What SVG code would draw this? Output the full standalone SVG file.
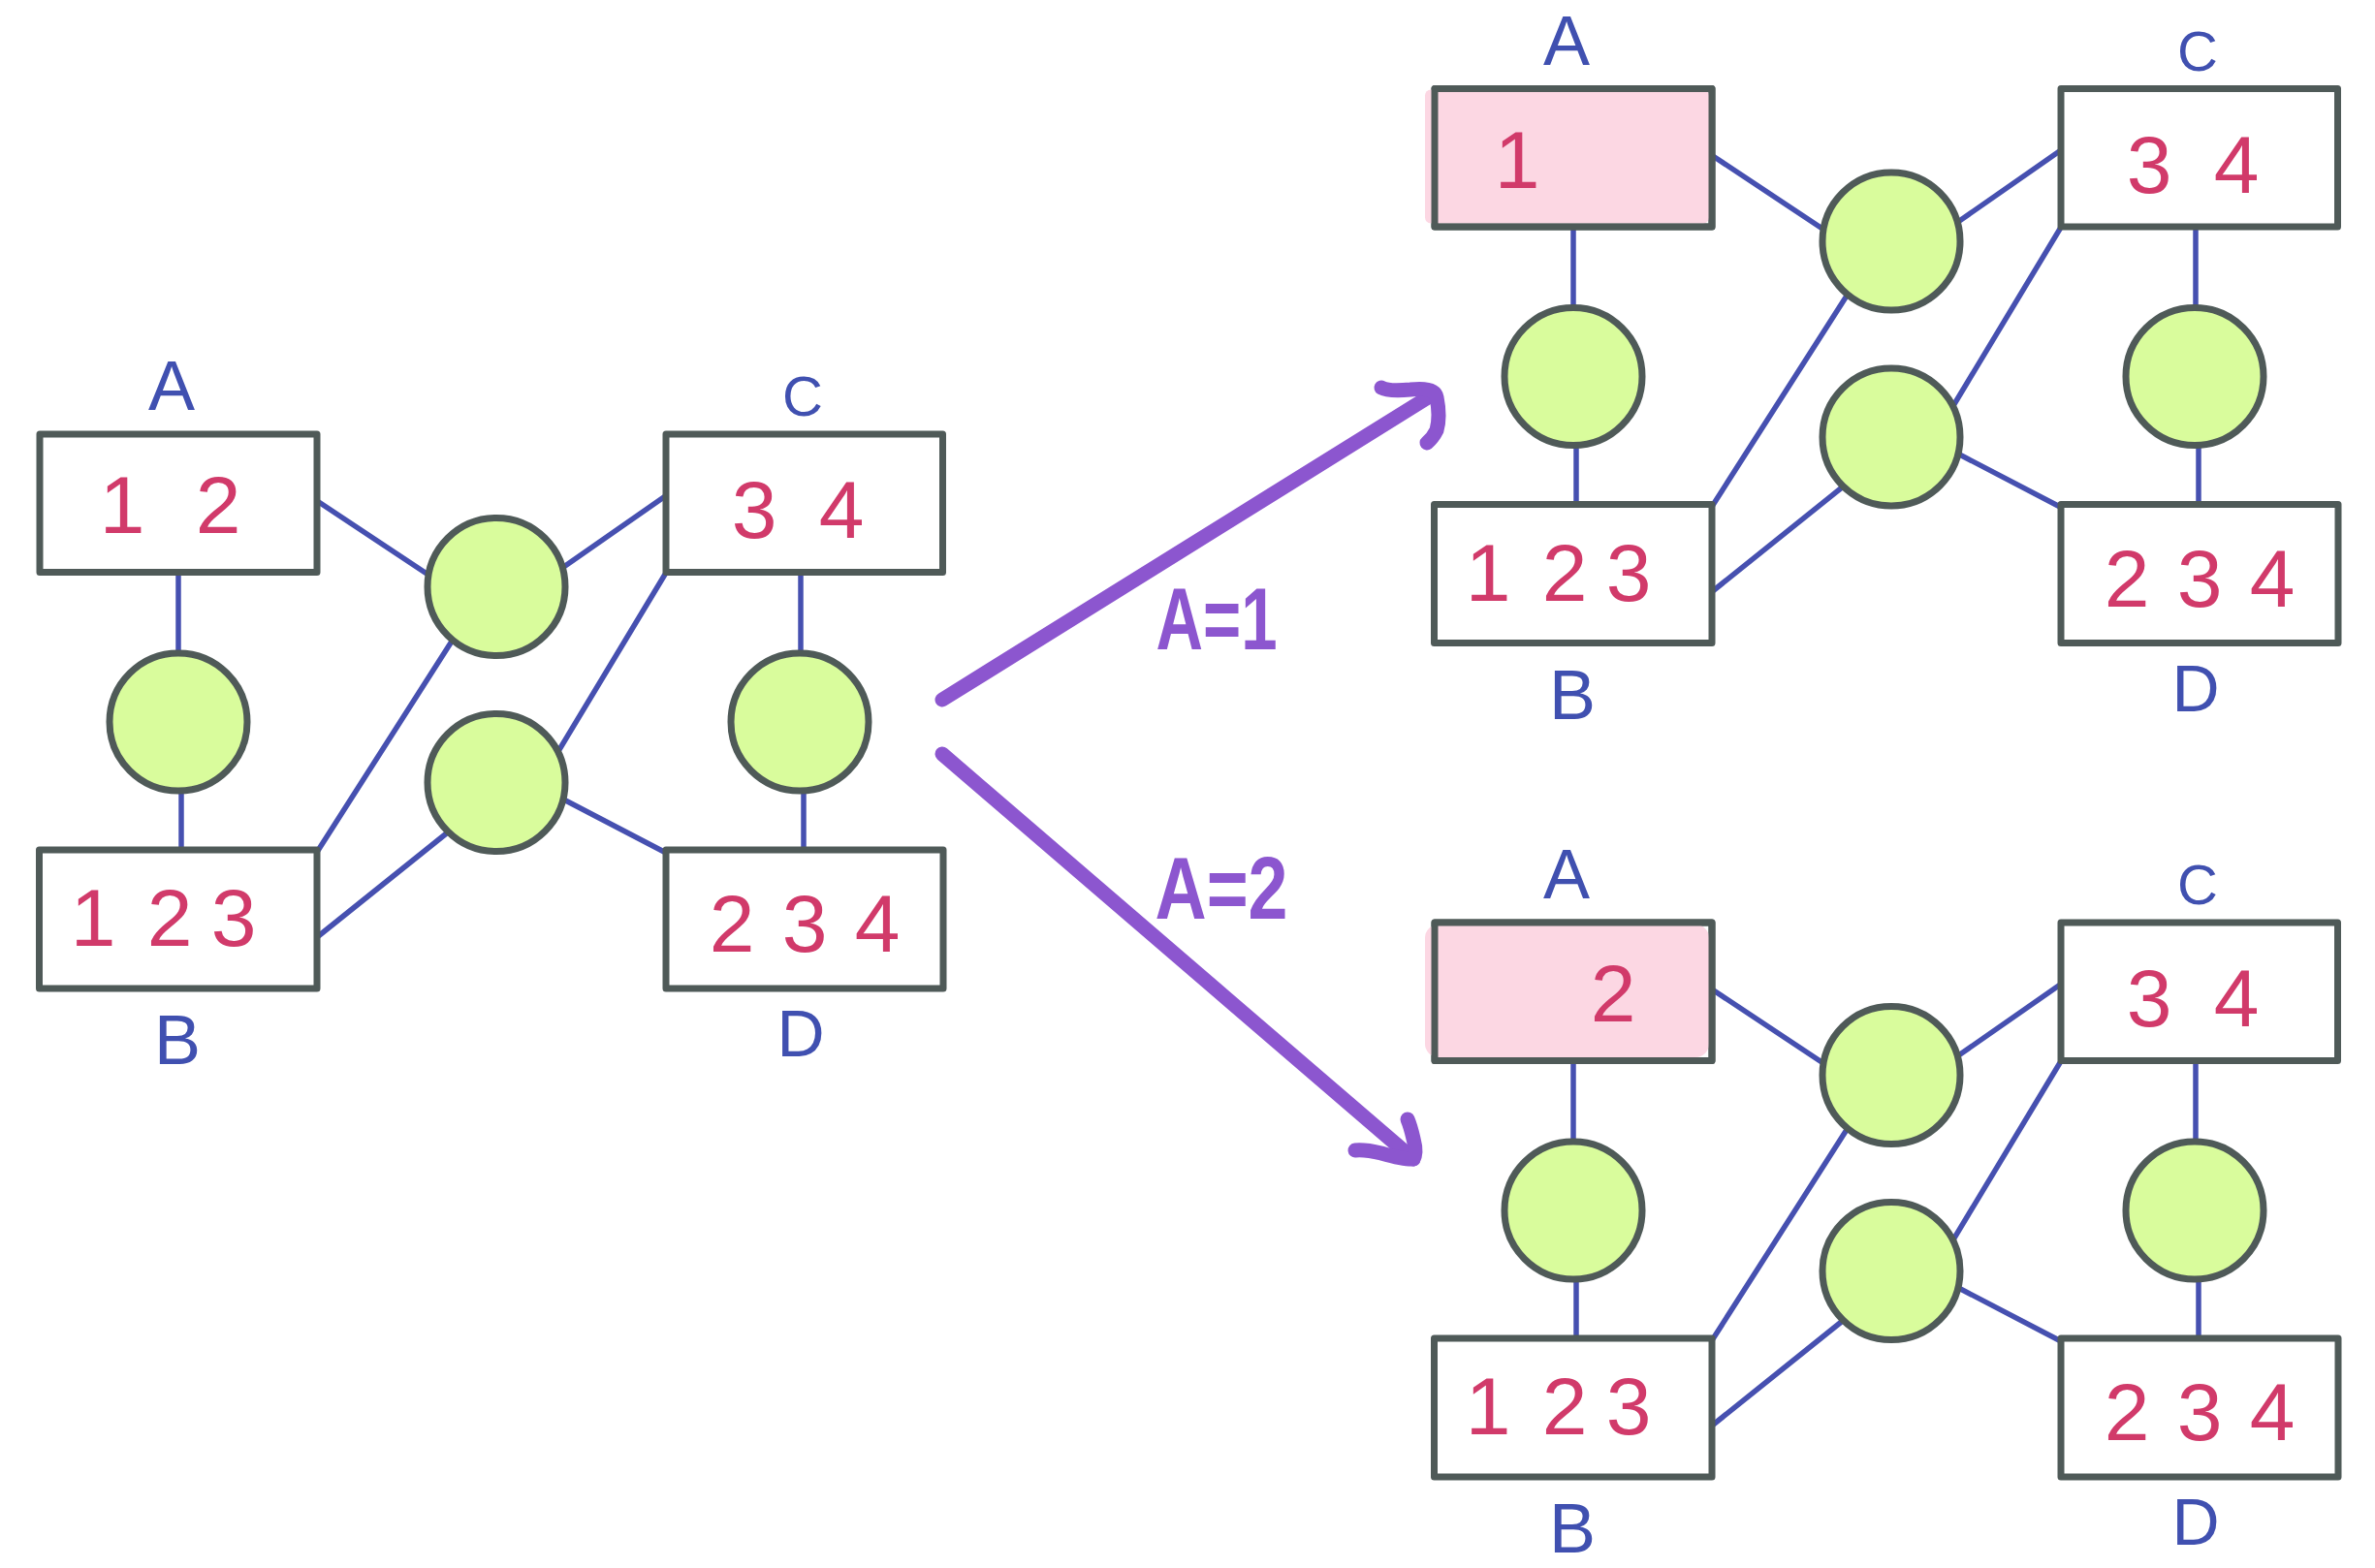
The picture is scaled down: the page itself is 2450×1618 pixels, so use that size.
<svg xmlns="http://www.w3.org/2000/svg" width="2450" height="1618" viewBox="0 0 2450 1618">
<style>
.box{fill:#ffffff;stroke:#4f5a58;stroke-width:7;stroke-linejoin:round}
.pink{fill:#fcd7e3;stroke:none}
.var{fill:#d9fc9c;stroke:#4f5a58;stroke-width:7}
.edge{stroke:#4650b0;stroke-width:5.5;stroke-linecap:round;fill:none}
.lbl{font-family:"Liberation Sans",Arial,sans-serif;fill:#4050b0;text-anchor:middle}
.num{font-family:"Liberation Sans",Arial,sans-serif;fill:#d13a6a;font-size:84px;text-anchor:middle}
.arrow{stroke:#8c56cf;stroke-width:15;stroke-linecap:round;stroke-linejoin:round;fill:none}
.alabel{font-family:"Liberation Sans",Arial,sans-serif;fill:#8c56cf;font-weight:bold;font-size:90px;text-anchor:middle}
</style>
<rect width="2450" height="1618" fill="#ffffff"/>

<!-- ===== Left diagram ===== -->
<g id="diagram-left">
  <g id="connectors-left">
    <line class="edge" x1="328" y1="517.5" x2="441" y2="592.5"/>
    <line class="edge" x1="581.5" y1="585" x2="685.5" y2="512.5"/>
    <line class="edge" x1="184" y1="591" x2="184" y2="671"/>
    <line class="edge" x1="187" y1="819" x2="187" y2="877"/>
    <line class="edge" x1="326.5" y1="880" x2="465.5" y2="662.5"/>
    <line class="edge" x1="326.5" y1="967.5" x2="460.5" y2="860"/>
    <line class="edge" x1="687" y1="591" x2="575.5" y2="776"/>
    <line class="edge" x1="581.5" y1="825" x2="687" y2="880"/>
    <line class="edge" x1="826" y1="591" x2="826" y2="671"/>
    <line class="edge" x1="829" y1="819" x2="829" y2="877"/>
  </g>
  <g id="left-A">
    <rect class="box" x="41" y="448" width="286" height="142.5"/>
    <text class="num" x="126 175.5 225" y="550">1 2</text>
    <text class="lbl" x="177" y="423" font-size="72">A</text>
  </g>
  <g id="left-B">
    <rect class="box" x="40.5" y="877" width="286.5" height="143"/>
    <text class="num" x="96 135.5 175 208 241" y="976">1 2 3</text>
    <text class="lbl" x="183" y="1098" font-size="72">B</text>
  </g>
  <g id="left-C">
    <rect class="box" x="687" y="448" width="285.5" height="142.5"/>
    <text class="num" x="778 823 868" y="555">3 4</text>
    <text class="lbl" x="828" y="429" font-size="58">C</text>
  </g>
  <g id="left-D">
    <rect class="box" x="687" y="877" width="286" height="143"/>
    <text class="num" x="755 792.5 830 867.5 905" y="982">2 3 4</text>
    <text class="lbl" x="826" y="1090" font-size="68">D</text>
  </g>
  <g id="left-fAB"><circle class="var" cx="184" cy="745" r="71"/></g>
  <g id="left-fAC"><circle class="var" cx="512" cy="605.5" r="71"/></g>
  <g id="left-fBC"><circle class="var" cx="512" cy="807.5" r="71"/></g>
  <g id="left-fCD"><circle class="var" cx="825" cy="745" r="71"/></g>
</g>

<!-- ===== Arrows ===== -->
<g id="arrows">
  <g id="arrow-A1">
    <path class="arrow" d="M972,722 L1478,407"/>
    <path class="arrow" d="M1425,400 Q1432,404 1455,402 Q1480,399 1482,410 Q1486,430 1482,444 Q1478,452 1472,457"/>
    <text class="alabel" x="1255" y="670" textLength="125" lengthAdjust="spacingAndGlyphs">A=1</text>
  </g>
  <g id="arrow-A2">
    <path class="arrow" d="M972,778 L1458,1196"/>
    <path class="arrow" d="M1398,1187 Q1408,1186 1425,1190 Q1450,1197 1458,1196 Q1462,1190 1458,1175 Q1455,1162 1452,1155"/>
    <text class="alabel" x="1260" y="948" textLength="137" lengthAdjust="spacingAndGlyphs">A=2</text>
  </g>
</g>

<!-- ===== Right-top diagram (A=1) ===== -->
<g id="diagram-A1" transform="translate(1439,-356.5)">
  <g id="connectors-A1">
    <line class="edge" x1="328" y1="517.5" x2="441" y2="592.5"/>
    <line class="edge" x1="581.5" y1="585" x2="685.5" y2="512.5"/>
    <line class="edge" x1="184" y1="591" x2="184" y2="671"/>
    <line class="edge" x1="187" y1="819" x2="187" y2="877"/>
    <line class="edge" x1="326.5" y1="880" x2="465.5" y2="662.5"/>
    <line class="edge" x1="326.5" y1="967.5" x2="460.5" y2="860"/>
    <line class="edge" x1="687" y1="591" x2="575.5" y2="776"/>
    <line class="edge" x1="581.5" y1="825" x2="687" y2="880"/>
    <line class="edge" x1="826" y1="591" x2="826" y2="671"/>
    <line class="edge" x1="829" y1="819" x2="829" y2="877"/>
  </g>
  <g id="A1-A">
    <rect class="box" x="41" y="448" width="286" height="142.5"/>
    <rect class="pink" x="31" y="449" width="293" height="138" rx="6"/>
    <rect x="41" y="448" width="286" height="142.5" fill="none" stroke="#4f5a58" stroke-width="7" stroke-linejoin="round"/>
    <text class="num" x="126" y="550">1</text>
    <text class="lbl" x="177" y="423" font-size="72">A</text>
  </g>
  <g id="A1-B">
    <rect class="box" x="40.5" y="877" width="286.5" height="143"/>
    <text class="num" x="96 135.5 175 208 241" y="976">1 2 3</text>
    <text class="lbl" x="183" y="1098" font-size="72">B</text>
  </g>
  <g id="A1-C">
    <rect class="box" x="687" y="448" width="285.5" height="142.5"/>
    <text class="num" x="778 823 868" y="555">3 4</text>
    <text class="lbl" x="828" y="429" font-size="58">C</text>
  </g>
  <g id="A1-D">
    <rect class="box" x="687" y="877" width="286" height="143"/>
    <text class="num" x="755 792.5 830 867.5 905" y="982">2 3 4</text>
    <text class="lbl" x="826" y="1090" font-size="68">D</text>
  </g>
  <g id="A1-fAB"><circle class="var" cx="184" cy="745" r="71"/></g>
  <g id="A1-fAC"><circle class="var" cx="512" cy="605.5" r="71"/></g>
  <g id="A1-fBC"><circle class="var" cx="512" cy="807.5" r="71"/></g>
  <g id="A1-fCD"><circle class="var" cx="825" cy="745" r="71"/></g>
</g>

<!-- ===== Right-bottom diagram (A=2) ===== -->
<g id="diagram-A2" transform="translate(1439,504)">
  <g id="connectors-A2">
    <line class="edge" x1="328" y1="517.5" x2="441" y2="592.5"/>
    <line class="edge" x1="581.5" y1="585" x2="685.5" y2="512.5"/>
    <line class="edge" x1="184" y1="591" x2="184" y2="671"/>
    <line class="edge" x1="187" y1="819" x2="187" y2="877"/>
    <line class="edge" x1="326.5" y1="880" x2="465.5" y2="662.5"/>
    <line class="edge" x1="326.5" y1="967.5" x2="460.5" y2="860"/>
    <line class="edge" x1="687" y1="591" x2="575.5" y2="776"/>
    <line class="edge" x1="581.5" y1="825" x2="687" y2="880"/>
    <line class="edge" x1="826" y1="591" x2="826" y2="671"/>
    <line class="edge" x1="829" y1="819" x2="829" y2="877"/>
  </g>
  <g id="A2-A">
    <rect class="box" x="41" y="448" width="286" height="142.5"/>
    <rect class="pink" x="31" y="450" width="293" height="137" rx="14"/>
    <rect x="41" y="448" width="286" height="142.5" fill="none" stroke="#4f5a58" stroke-width="7" stroke-linejoin="round"/>
    <text class="num" x="225" y="550">2</text>
    <text class="lbl" x="177" y="423" font-size="72">A</text>
  </g>
  <g id="A2-B">
    <rect class="box" x="40.5" y="877" width="286.5" height="143"/>
    <text class="num" x="96 135.5 175 208 241" y="976">1 2 3</text>
    <text class="lbl" x="183" y="1098" font-size="72">B</text>
  </g>
  <g id="A2-C">
    <rect class="box" x="687" y="448" width="285.5" height="142.5"/>
    <text class="num" x="778 823 868" y="555">3 4</text>
    <text class="lbl" x="828" y="429" font-size="58">C</text>
  </g>
  <g id="A2-D">
    <rect class="box" x="687" y="877" width="286" height="143"/>
    <text class="num" x="755 792.5 830 867.5 905" y="982">2 3 4</text>
    <text class="lbl" x="826" y="1090" font-size="68">D</text>
  </g>
  <g id="A2-fAB"><circle class="var" cx="184" cy="745" r="71"/></g>
  <g id="A2-fAC"><circle class="var" cx="512" cy="605.5" r="71"/></g>
  <g id="A2-fBC"><circle class="var" cx="512" cy="807.5" r="71"/></g>
  <g id="A2-fCD"><circle class="var" cx="825" cy="745" r="71"/></g>
</g>
</svg>
